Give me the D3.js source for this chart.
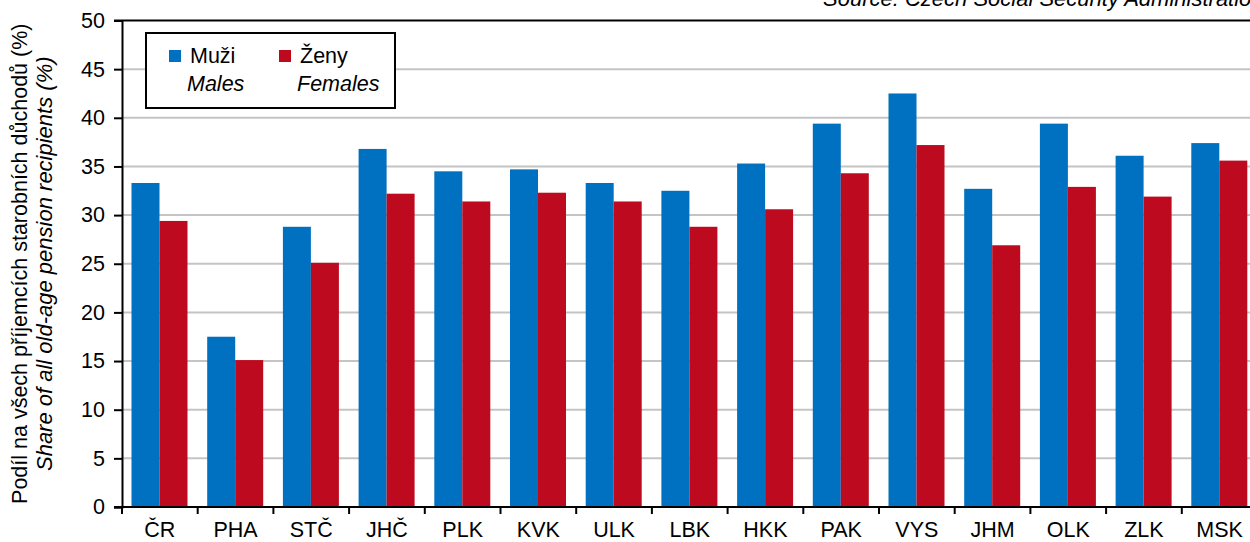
<!DOCTYPE html>
<html>
<head>
<meta charset="utf-8">
<script src="https://cdn.jsdelivr.net/npm/d3@7"></script>
<style>
  body { margin: 0; background: #fff; }
  svg { display: block; font-family: "Liberation Sans", Arial, sans-serif; }
</style>
</head>
<body>
<div id="chart"></div>
<script>
const regions = ['ČR', 'PHA', 'STČ', 'JHČ', 'PLK', 'KVK', 'ULK', 'LBK', 'HKK', 'PAK', 'VYS', 'JHM', 'OLK', 'ZLK', 'MSK'];
const males = [33.3, 17.5, 28.8, 36.8, 34.5, 34.7, 33.3, 32.5, 35.3, 39.4, 42.5, 32.7, 39.4, 36.1, 37.4];
const females = [29.4, 15.1, 25.1, 32.2, 31.4, 32.3, 31.4, 28.8, 30.6, 34.3, 37.2, 26.9, 32.9, 31.9, 35.6];
const yTicks = [0, 5, 10, 15, 20, 25, 30, 35, 40, 45, 50];

const width = 1250;
const height = 542;
const blue = '#0070c0';
const red = '#bd0a1f';

const svg = d3.select('#chart').append('svg')
  .attr('width', width)
  .attr('height', height);

const x = d3.scaleBand()
  .domain(regions)
  .range([122, 1257.5]);

const x1 = d3.scaleBand()
  .domain(['m', 'f'])
  .range([9.5, 65.5]);

const y = d3.scaleLinear()
  .domain([0, 50])
  .range([507, 20.5]);

// gridlines
svg.append('g')
  .selectAll('line')
  .data(yTicks.filter(d => d > 0 && d < 50))
  .enter().append('line')
  .attr('x1', 122)
  .attr('x2', width)
  .attr('y1', d => y(d))
  .attr('y2', d => y(d))
  .style('stroke', '#c4c4c4')
  .style('stroke-width', 2);

// bars
const groups = svg.append('g')
  .selectAll('g')
  .data(regions)
  .enter().append('g')
  .attr('transform', d => `translate(${x(d)},0)`);

groups.append('rect')
  .attr('x', x1('m'))
  .attr('width', x1.bandwidth())
  .attr('y', (d, i) => y(males[i]))
  .attr('height', (d, i) => y(0) - y(males[i]))
  .style('fill', blue);

groups.append('rect')
  .attr('x', x1('f'))
  .attr('width', x1.bandwidth())
  .attr('y', (d, i) => y(females[i]))
  .attr('height', (d, i) => y(0) - y(females[i]))
  .style('fill', red);

// top border
svg.append('line')
  .attr('x1', 114)
  .attr('x2', width)
  .attr('y1', y(50))
  .attr('y2', y(50))
  .style('stroke', '#000')
  .style('stroke-width', 2);

// y axis
const yAxis = svg.append('g')
  .attr('transform', 'translate(122,0)')
  .call(d3.axisLeft(y).tickValues(yTicks).tickSize(8).tickPadding(9));
yAxis.select('.domain').style('stroke-width', 2);
yAxis.selectAll('.tick line').style('stroke-width', 2);
yAxis.selectAll('.tick text')
  .style('font-size', '21.5px')
  .style('font-family', '"Liberation Sans", Arial, sans-serif')
  .style('fill', '#000');

// x axis: ticks at the band boundaries
const xAxis = svg.append('g')
  .attr('transform', `translate(0,${y(0)})`);
xAxis.append('line')
  .attr('x1', 114)
  .attr('x2', width)
  .style('stroke', '#000')
  .style('stroke-width', 2);
xAxis.selectAll('.xt')
  .data(regions)
  .enter().append('line')
  .attr('class', 'xt')
  .attr('x1', d => x(d))
  .attr('x2', d => x(d))
  .attr('y1', 0)
  .attr('y2', 7)
  .style('stroke', '#000')
  .style('stroke-width', 2);
xAxis.selectAll('text')
  .data(regions)
  .enter().append('text')
  .attr('x', d => x(d) + x.bandwidth() / 2)
  .attr('y', 30)
  .attr('text-anchor', 'middle')
  .style('font-size', '21.5px')
  .text(d => d);

// y axis title
const title = svg.append('text')
  .attr('transform', `translate(0,${(y(0) + y(50)) / 2}) rotate(-90)`)
  .attr('text-anchor', 'middle');
title.append('tspan')
  .attr('x', 0)
  .attr('y', 27)
  .style('font-size', '21.5px')
  .text('Podíl na všech příjemcích starobních důchodů (%)');
title.append('tspan')
  .attr('x', 0)
  .attr('y', 52)
  .style('font-size', '22px')
  .style('font-style', 'italic')
  .text('Share of all old-age pension recipients (%)');

// source
svg.append('text')
  .attr('x', 823)
  .attr('y', 6)
  .style('font-size', '22px')
  .style('font-style', 'italic')
  .text('Source: Czech Social Security Administration');

// legend
const legend = svg.append('g');
legend.append('rect')
  .attr('x', 146)
  .attr('y', 33)
  .attr('width', 249)
  .attr('height', 75)
  .style('fill', '#fff')
  .style('stroke', '#000')
  .style('stroke-width', 2);

const legendItems = [
  { cz: 'Muži', en: 'Males', color: blue, x: 169 },
  { cz: 'Ženy', en: 'Females', color: red, x: 279 },
];
legendItems.forEach(item => {
  legend.append('rect')
    .attr('x', item.x)
    .attr('y', 50)
    .attr('width', 12)
    .attr('height', 12)
    .style('fill', item.color);
  legend.append('text')
    .attr('x', item.x + 21)
    .attr('y', 63)
    .style('font-size', '21.5px')
    .text(item.cz);
  legend.append('text')
    .attr('x', item.x + 18)
    .attr('y', 91)
    .style('font-size', '21.5px')
    .style('font-style', 'italic')
    .text(item.en);
});
</script>
</body>
</html>
